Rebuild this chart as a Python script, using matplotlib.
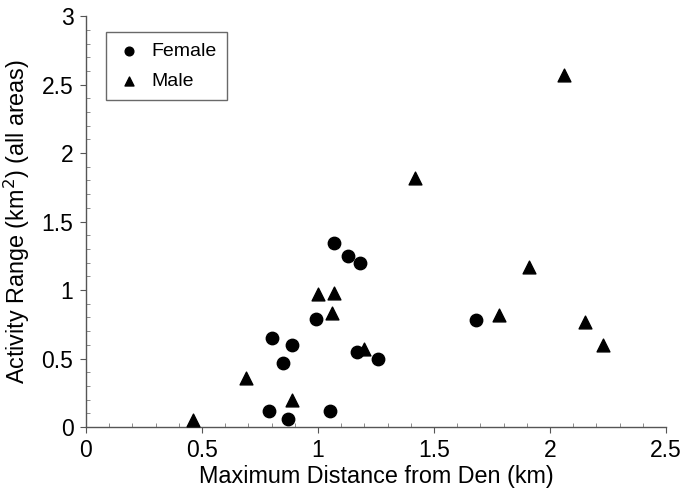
import matplotlib
matplotlib.use('Agg')
import matplotlib.pyplot as plt
from matplotlib.ticker import MultipleLocator

plt.rcParams['font.family'] = ['Liberation Sans', 'DejaVu Sans']

female_x = [1.07, 1.13, 1.18, 0.99, 0.80, 0.89, 0.85, 0.79, 0.87, 1.05, 1.17, 1.26, 1.68]
female_y = [1.34, 1.25, 1.20, 0.79, 0.65, 0.60, 0.47, 0.12, 0.06, 0.12, 0.55, 0.50, 0.78]

male_x = [0.46, 0.69, 0.89, 1.00, 1.07, 1.06, 1.20, 1.42, 2.06, 1.91, 1.78, 2.15, 2.23]
male_y = [0.05, 0.36, 0.20, 0.97, 0.98, 0.83, 0.57, 1.82, 2.57, 1.17, 0.82, 0.77, 0.60]

x_ticks = [0, 0.5, 1, 1.5, 2, 2.5]
y_ticks = [0, 0.5, 1, 1.5, 2, 2.5, 3]
tick_labels_x = ['0', '0.5', '1', '1.5', '2', '2.5']
tick_labels_y = ['0', '0.5', '1', '1.5', '2', '2.5', '3']

fig = plt.figure(figsize=(6.84, 4.9), dpi=100)
ax = fig.add_axes([0.1257, 0.1286, 0.848, 0.8384])

ax.scatter(female_x, female_y, marker='o', s=80, color='black', label='Female', zorder=3)
ax.scatter(male_x, male_y, marker='^', s=85, color='black', label='Male', zorder=3)

ax.set_xlim(0, 2.5)
ax.set_ylim(0, 3)
ax.set_xticks(x_ticks)
ax.set_xticklabels(tick_labels_x)
ax.set_yticks(y_ticks)
ax.set_yticklabels(tick_labels_y)
ax.xaxis.set_minor_locator(MultipleLocator(0.1))
ax.yaxis.set_minor_locator(MultipleLocator(0.1))

for side in ['top', 'right']:
    ax.spines[side].set_visible(False)
for side in ['left', 'bottom']:
    ax.spines[side].set_color('#555555')
    ax.spines[side].set_linewidth(1.0)

ax.tick_params(which='major', direction='out', length=4, width=0.8, color='#555555',
               labelsize=16.5, pad=5)
ax.tick_params(which='minor', direction='in', length=3, width=0.6, color='#777777')

ax.set_xlabel('Maximum Distance from Den (km)', fontsize=16.8, labelpad=2)
ax.set_ylabel('Activity Range (km$^2$) (all areas)', fontsize=16.8, labelpad=7)

leg = ax.legend(loc='upper left', bbox_to_anchor=(0.034, 0.961), borderaxespad=0,
                fancybox=False, edgecolor='#444444', fontsize=14, markerscale=0.7,
                handletextpad=0.5, handlelength=1.3, borderpad=0.55, labelspacing=0.6)
leg.get_frame().set_linewidth(1.0)

fig.savefig('out.png', dpi=100)
